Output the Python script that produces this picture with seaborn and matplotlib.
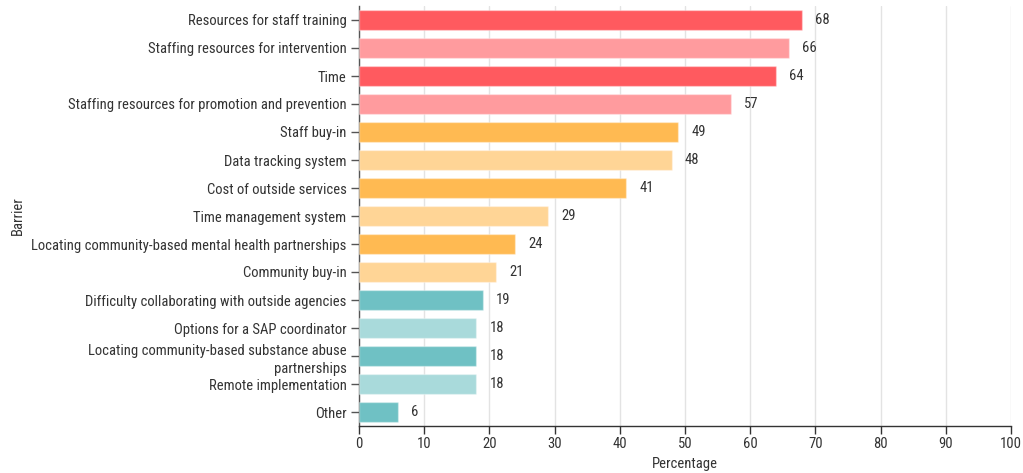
import matplotlib
matplotlib.use("Agg")
import matplotlib.pyplot as plt
import seaborn as sns
import pandas as pd
from matplotlib import font_manager

categories = [
    "Resources for staff training",
    "Staffing resources for intervention",
    "Time",
    "Staffing resources for promotion and prevention",
    "Staff buy-in",
    "Data tracking system",
    "Cost of outside services",
    "Time management system",
    "Locating community-based mental health partnerships",
    "Community buy-in",
    "Difficulty collaborating with outside agencies",
    "Options for a SAP coordinator",
    "Locating community-based substance abuse\npartnerships",
    "Remote implementation",
    "Other",
]
values = [68, 66, 64, 57, 49, 48, 41, 29, 24, 21, 19, 18, 18, 18, 6]
bar_colors = [
    "#FF5A5F", "#FF9B9E", "#FF5A5F", "#FF9B9E",
    "#FFBA52", "#FFD596", "#FFBA52", "#FFD596", "#FFBA52", "#FFD596",
    "#6FC1C4", "#A9DADB", "#6FC1C4", "#A9DADB", "#6FC1C4",
]
xticks = [0, 10, 20, 30, 40, 50, 60, 70, 80, 90, 100]

sns.set_theme(style="white")
avail = {f.name for f in font_manager.fontManager.ttflist}
fam = [f for f in ["Roboto Condensed", "Liberation Sans Narrow", "Roboto", "DejaVu Sans"] if f in avail]
plt.rcParams["font.family"] = fam

df = pd.DataFrame({"Barrier": categories, "Percentage": values})

left_px, right_px = 359, 1011
fig = plt.figure(figsize=(10.23, 4.73), dpi=100)
ax = fig.add_axes([left_px/1023, 1 - 426/473, (right_px-left_px)/1023, (426-6)/473])

sns.barplot(data=df, y="Barrier", x="Percentage", hue="Barrier",
            palette=bar_colors, legend=False, orient="h", width=0.68,
            saturation=1, ax=ax, zorder=3)
for p in ax.patches:
    p.set_edgecolor((1, 1, 1, 0.35))
    p.set_linewidth(1.0)

for i, v in enumerate(values):
    ax.text(v + 2.0, i, f"{v}", va="center", ha="left", fontsize=10.5, color="#333333")

ax.set_xlim(0, 100)
ax.set_ylim(14.5, -0.5)
ax.set_xticks(xticks)
ax.set_xticklabels([str(t) for t in xticks])
ax.grid(axis="x", color="#e3e3e3", linewidth=1, zorder=0)
ax.set_axisbelow(True)

for s in ["top", "right"]:
    ax.spines[s].set_visible(False)
ax.spines["left"].set_color("#555555")
ax.spines["bottom"].set_color("#333333")
ax.spines["left"].set_linewidth(1)
ax.spines["bottom"].set_linewidth(1)

ax.tick_params(axis="y", length=6, width=1, color="#555555", labelsize=10.5,
               labelcolor="#333333", left=True, pad=3)
ax.tick_params(axis="x", length=6, width=1, color="#333333", labelsize=10.5,
               labelcolor="#333333", bottom=True, pad=2)
for lab in ax.get_yticklabels():
    lab.set_multialignment("right")
    lab.set_linespacing(1.45)

ax.set_xlabel("Percentage", fontsize=10.5, color="#333333", labelpad=4)
ax.set_ylabel("Barrier", fontsize=10.5, color="#333333")
ax.yaxis.set_label_coords(-(left_px - 25) / (right_px - left_px), 0.5)

fig.savefig("out.png", dpi=100)
